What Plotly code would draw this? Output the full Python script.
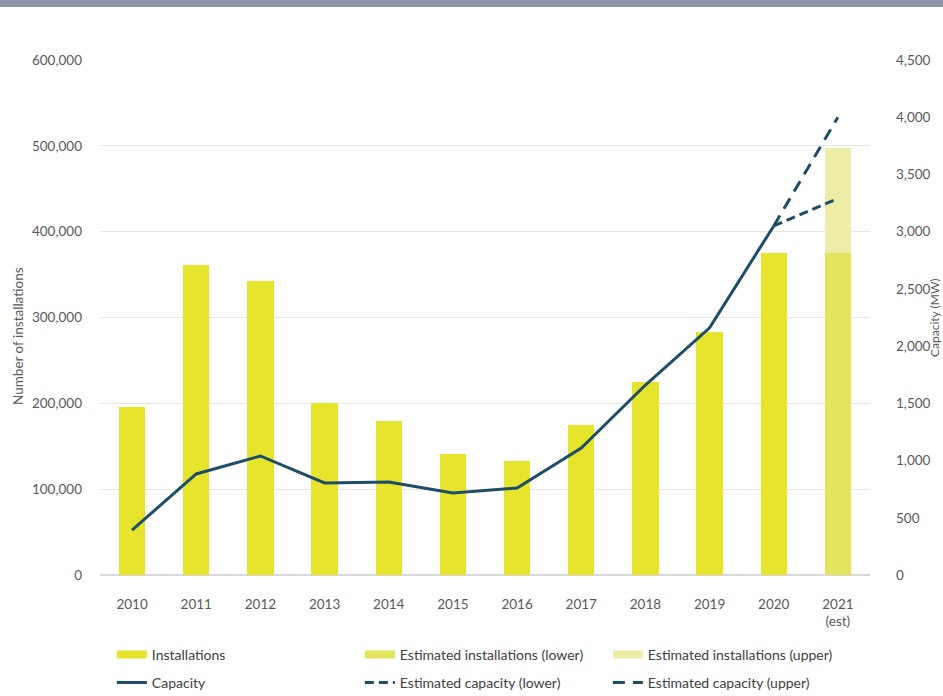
import plotly.graph_objects as go

years = ["2010", "2011", "2012", "2013", "2014", "2015", "2016", "2017", "2018", "2019", "2020", "2021<br>(est)"]
installations = [196000, 361000, 343000, 200000, 180000, 141000, 133000, 175000, 225000, 283000, 375000]
est_inst_lower = [375000]
est_inst_upper = [498000]
capacity = [393, 883, 1040, 804, 813, 717, 760, 1110, 1660, 2160, 3050]
est_cap_lower = [3050, 3290]
est_cap_upper = [3050, 4000]

left_ticks = [0, 100000, 200000, 300000, 400000, 500000, 600000]
right_ticks = [0, 500, 1000, 1500, 2000, 2500, 3000, 3500, 4000, 4500]

BAR = "#E6E52C"
BAR_LOW = "#E4E35E"
BAR_UP = "#EEEDA8"
LINE = "#1F4D68"
TXT = "#595959"
LEG = "#404040"
FONT = "Lato"
BW = 0.41

fig = go.Figure()
# bars (legend drawn by the swatch entries below)
fig.add_trace(go.Bar(x=years[:11], y=installations, name="Installations", showlegend=False,
                     marker=dict(color=BAR, line=dict(width=0)), width=BW))
fig.add_trace(go.Bar(x=years[11:], y=est_inst_lower, name="Estimated installations (lower)", showlegend=False,
                     marker=dict(color=BAR_LOW, line=dict(width=0)), width=BW))
fig.add_trace(go.Bar(x=years[11:], y=[u - l for u, l in zip(est_inst_upper, est_inst_lower)],
                     base=est_inst_lower, name="Estimated installations (upper)", showlegend=False,
                     marker=dict(color=BAR_UP, line=dict(width=0)), width=BW))
# legend swatches for the bars (wide flat rectangles like the original)
for nm, col in [("Installations", BAR), ("Estimated installations (lower)", BAR_LOW),
                ("Estimated installations (upper)", BAR_UP)]:
    fig.add_trace(go.Scatter(x=[None], y=[None], mode="lines", name=nm,
                             line=dict(color=col, width=8), legend="legend", hoverinfo="skip"))
# capacity lines
fig.add_trace(go.Scatter(x=years[:11], y=capacity, name="Capacity", mode="lines",
                         line=dict(color=LINE, width=3), yaxis="y2", legend="legend2"))
fig.add_trace(go.Scatter(x=years[10:], y=est_cap_lower, name="Estimated capacity (lower)", mode="lines",
                         line=dict(color=LINE, width=3, dash="9px,5px"), yaxis="y2", legend="legend2"))
fig.add_trace(go.Scatter(x=years[10:], y=est_cap_upper, name="Estimated capacity (upper)", mode="lines",
                         line=dict(color=LINE, width=3, dash="12px,8px"), yaxis="y2", legend="legend2"))

leg_common = dict(orientation="h", xanchor="left", yanchor="middle",
                  entrywidth=203, entrywidthmode="pixels", traceorder="normal",
                  font=dict(family=FONT, size=14, color=LEG), bgcolor="rgba(0,0,0,0)")

PH = 515.0  # plot height in px
PW = 770.0  # plot width in px

fig.update_layout(
    width=943, height=696,
    margin=dict(l=100, r=73, t=60, b=121, autoexpand=False),
    paper_bgcolor="white", plot_bgcolor="white",
    barmode="stack",
    font=dict(family=FONT, size=14, color=TXT),
    showlegend=True,
    legend=dict(x=0.0154, y=-(655 - 575) / PH, **leg_common),
    legend2=dict(x=0.0154, y=-(683 - 575) / PH, **leg_common),
    xaxis=dict(type="category", showgrid=False, showline=False, ticks="",
               tickfont=dict(size=13.5, color=TXT), ticklabelstandoff=19),
    yaxis=dict(range=[0, 600000], tickvals=left_ticks, tickformat=",", showgrid=True,
               gridcolor="#E6E6E6", gridwidth=1, zeroline=True, zerolinecolor="#D9D9D9",
               showline=False, ticks="",
               tickfont=dict(size=13.5, color=TXT), ticklabelstandoff=17),
    yaxis2=dict(range=[0, 4500], tickvals=right_ticks, tickformat=",", overlaying="y", side="right",
                showgrid=False, zeroline=False, showline=False, ticks="",
                tickfont=dict(size=13.5, color=TXT), ticklabelstandoff=25),
    annotations=[
        dict(text="Number of installations", textangle=-90, xref="paper", yref="paper",
             x=(18 - 100) / PW, y=(575 - 336) / PH, xanchor="center", yanchor="middle",
             showarrow=False, font=dict(family=FONT, size=13.5, color=TXT)),
        dict(text="Capacity (MW)", textangle=-90, xref="paper", yref="paper",
             x=(934 - 100) / PW, y=(575 - 318) / PH, xanchor="center", yanchor="middle",
             showarrow=False, font=dict(family=FONT, size=12, color=TXT)),
    ],
)

fig.add_shape(type="rect", xref="paper", yref="paper", x0=-0.2, x1=1.2,
              y0=1 + 53 / PH, y1=1 + 64 / PH, fillcolor="#8E93AA", line=dict(width=0), layer="above")

fig.write_html("out.html", config={"displayModeBar": False},
               post_script="document.body.style.margin='0';")
